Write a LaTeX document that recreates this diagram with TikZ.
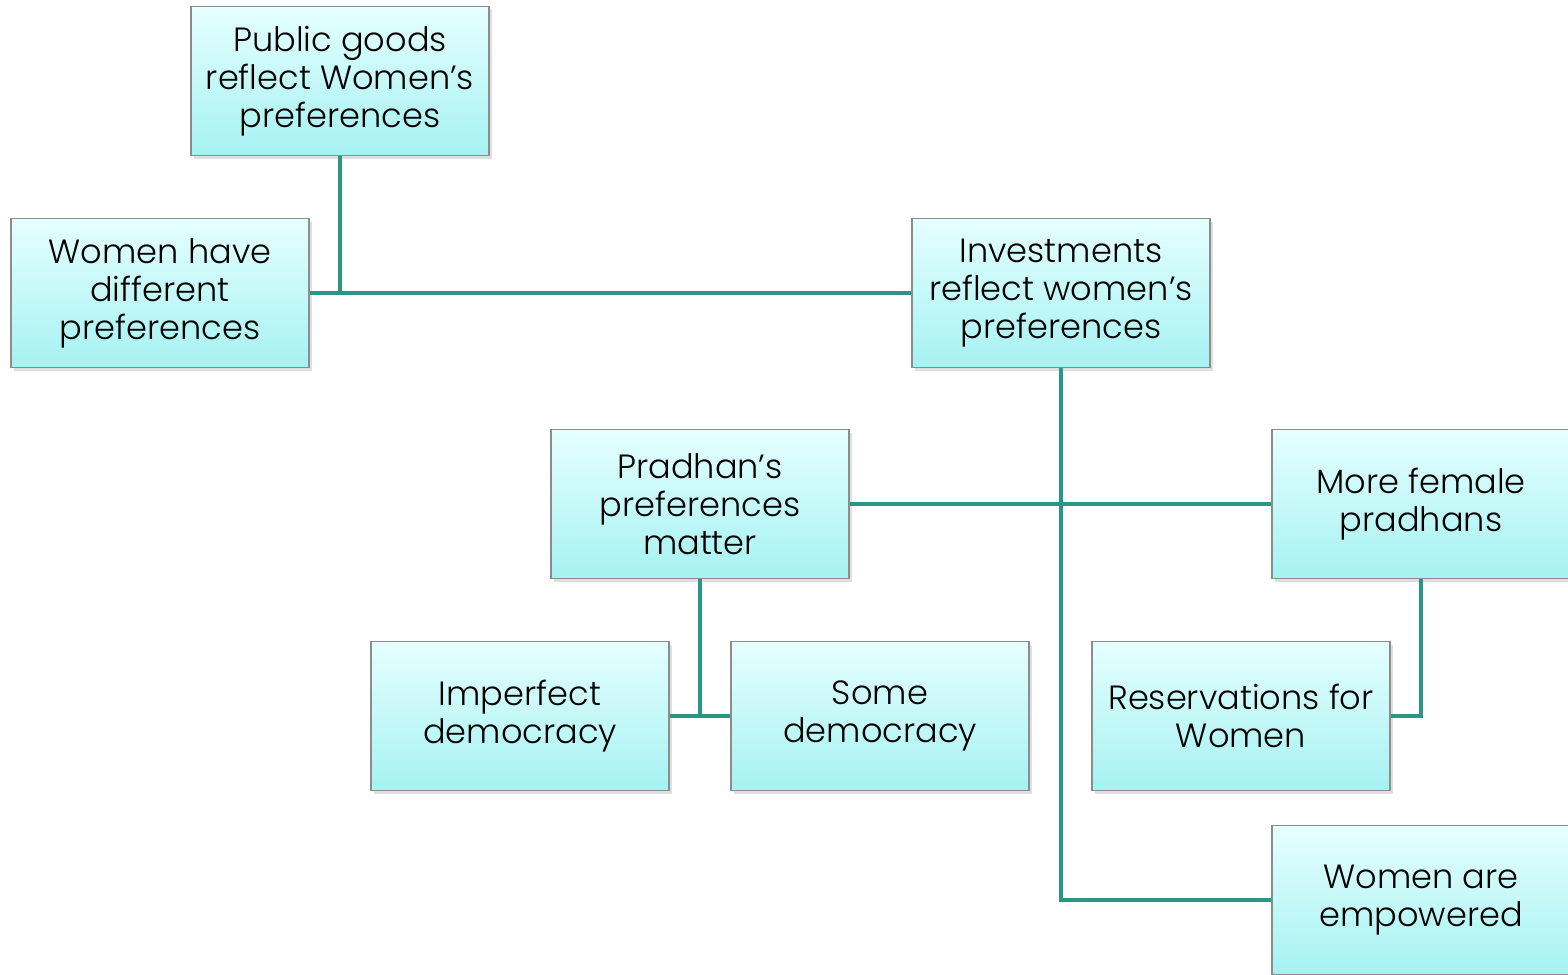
\documentclass[tikz,border=0pt]{standalone}
\usepackage{fontspec}
\setmainfont{Poppins Light}
\usetikzlibrary{shadows}

\begin{document}
\begin{tikzpicture}[x=0.5pt,y=-0.5pt,
   box/.style={draw=gray!90,line width=0.6pt,top color=cyan!10,bottom color=teal!30!cyan!35,
      minimum width=149pt,minimum height=74.5pt,align=center,inner sep=0pt,
      font=\fontsize{16.8}{19}\selectfont,
      drop shadow={shadow xshift=1.5pt,shadow yshift=-1.5pt,opacity=0.25}},
   link/.style={draw=linkcol,line width=2.3pt}]
   \definecolor{linkcol}{RGB}{42,150,136}
   \useasboundingbox (0,0) rectangle (1568,974);
   \begin{scope}
   \clip (0,0) rectangle (1568,974);
   % the boxes
   \node [box] (goods)   at (340,81)   {Public goods\\reflect Women’s\\preferences};
   \node [box] (differ)  at (160,293)  {Women have\\different\\preferences};
   \node [box] (invest)  at (1061,293) {Investments\\reflect women’s\\preferences};
   \node [box] (pradhan) at (700,504)  {Pradhan’s\\preferences\\matter};
   \node [box] (female)  at (1421,504) {More female\\pradhans};
   \node [box] (imperf)  at (520,716)  {Imperfect\\democracy};
   \node [box] (some)    at (880,716)  {Some\\democracy};
   \node [box] (reserve) at (1241,716) {Reservations for\\Women};
   \node [box] (empower) at (1421,900) {Women are\\empowered};
   % connectors
   \draw [link] (differ.east) -- (invest.west);
   \draw [link] (goods.south) -- (goods.south |- differ.east);
   \draw [link] (invest.south) |- (empower.west);
   \draw [link] (pradhan.east) -- (female.west);
   \draw [link] (imperf.east) -- (some.west);
   \draw [link] (pradhan.south) -- (pradhan.south |- imperf.east);
   \draw [link] (female.south) |- (reserve.east);
   \end{scope}
\end{tikzpicture}
\end{document}
